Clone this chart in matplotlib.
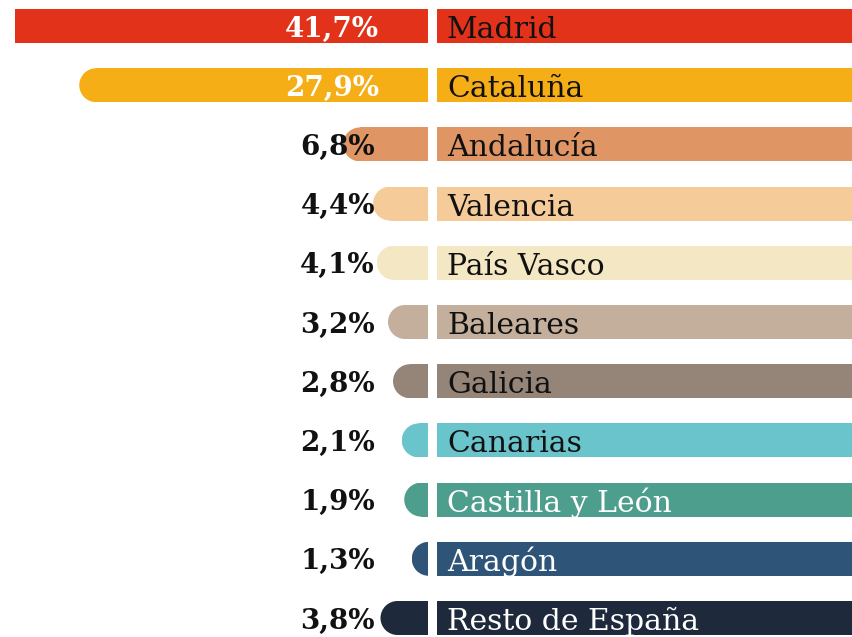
import matplotlib
matplotlib.use("Agg")
import matplotlib.pyplot as plt
from matplotlib.patches import Ellipse, Rectangle

regions = ["Madrid", "Cataluña", "Andalucía", "Valencia", "País Vasco", "Baleares",
           "Galicia", "Canarias", "Castilla y León", "Aragón", "Resto de España"]
values = [41.7, 27.9, 6.8, 4.4, 4.1, 3.2, 2.8, 2.1, 1.9, 1.3, 3.8]
labels = ["41,7%", "27,9%", "6,8%", "4,4%", "4,1%", "3,2%", "2,8%", "2,1%", "1,9%", "1,3%", "3,8%"]
colors = ["#E3321A", "#F5AE16", "#E09664", "#F5CB9A", "#F3E7C4", "#C4AE9C",
          "#958478", "#6AC4CC", "#4E9E8E", "#2E5478", "#1E2A3C"]
name_colors = ["#111111"] * 8 + ["white"] * 3
value_colors = ["white", "white"] + ["#111111"] * 9

W, H = 853, 637
fig = plt.figure(figsize=(W / 100, H / 100), dpi=100)
ax = fig.add_axes([0, 0, 1, 1])
pxx = 12.5   # pixels per percent
pxy = 59.2   # pixels per row
x0 = 428
ax.set_xlim(-x0 / pxx, (W - x0) / pxx)
ax.set_ylim((H - 26) / pxy, -26 / pxy)
ax.axis("off")

h = 34 / pxy
rx = 17 / pxx
xmin_clip = -(x0 - 15) / pxx
box_left = 9 / pxx
box_right = (W - x0) / pxx

for i, (v, c) in enumerate(zip(values, colors)):
    left = max(-v, xmin_clip)
    clip = Rectangle((left, i - h / 2), -left, h, transform=ax.transData)
    if -v < xmin_clip:
        ax.add_patch(Rectangle((left, i - h / 2), -left, h, color=c, lw=0))
    else:
        rect = Rectangle((-v + rx, i - h / 2), max(v - rx, 0), h, color=c, lw=0)
        ax.add_patch(rect)
        ell = Ellipse((-v + rx, i), 2 * rx, h, color=c, lw=0)
        ax.add_patch(ell)
        ell.set_clip_path(clip)
        rect.set_clip_path(clip)
    ax.add_patch(Rectangle((box_left, i - h / 2), box_right - box_left, h, color=c, lw=0))
    ax.text(box_left + 10 / pxx, i + 12 / pxy, regions[i], ha="left", va="baseline",
            fontsize=21.5, family="DejaVu Serif", color=name_colors[i])
    vx = -(x0 - 379) / pxx if i < 2 else -(x0 - 375) / pxx
    ax.text(vx, i + 10.5 / pxy, labels[i], ha="right", va="baseline", fontsize=20,
            family="DejaVu Serif", fontweight="bold", color=value_colors[i])

fig.savefig("out.png", dpi=100, facecolor="white")
